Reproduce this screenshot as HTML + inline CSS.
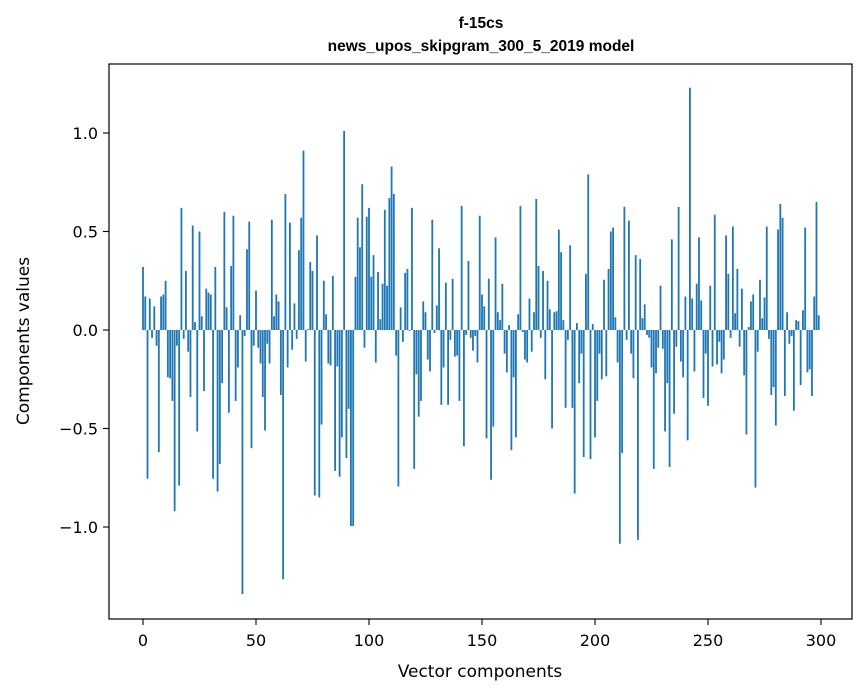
<!DOCTYPE html>
<html><head><meta charset="utf-8"><style>
html,body{margin:0;padding:0;background:#fff;}
svg{display:block;}
</style></head><body>
<svg id="chart" width="867" height="696" viewBox="0 0 867 696" xmlns="http://www.w3.org/2000/svg">
<rect width="867" height="696" fill="#fff"/>
<text x="481" y="28" text-anchor="middle" font-family="Liberation Sans, sans-serif" font-weight="bold" font-size="15.5">f-15cs</text>
<text x="481" y="51" text-anchor="middle" font-family="Liberation Sans, sans-serif" font-weight="bold" font-size="15.5">news_upos_skipgram_300_5_2019 model</text>
<g id="bars"></g>
<rect x="109" y="64" width="743" height="555" fill="none" stroke="#000" stroke-width="1.2"/>
<g id="xticks"></g>
<g id="yticks"></g>
<text x="480" y="677" text-anchor="middle" font-family="DejaVu Sans, sans-serif" font-size="17">Vector components</text>
<text transform="translate(29,341) rotate(-90)" text-anchor="middle" font-family="DejaVu Sans, sans-serif" font-size="17">Components values</text>
</svg>
<script>
const values = [
0.32,0.17,-0.755,0.16,-0.04,0.12,-0.08,-0.62,0.17,0.18,
0.25,-0.24,-0.245,-0.36,-0.92,-0.08,-0.79,0.62,-0.045,0.30,
-0.11,-0.34,0.53,0.04,-0.515,0.50,0.07,-0.31,0.21,0.19,
0.18,-0.755,0.32,-0.82,-0.68,-0.27,0.60,0.115,-0.42,0.325,
0.58,-0.36,-0.19,0.075,-1.34,-0.03,0.41,0.55,-0.60,-0.08,
0.20,-0.09,-0.17,-0.34,-0.51,-0.07,-0.17,0.56,0.07,0.18,
0.145,-0.33,-1.265,0.69,-0.19,0.545,-0.10,0.135,-0.045,0.405,
0.57,0.91,-0.16,0.005,0.345,0.30,-0.84,0.48,-0.85,-0.48,
0.25,0.08,-0.17,-0.18,0.275,-0.715,-0.185,-0.745,-0.545,1.01,
-0.65,-0.40,-0.995,-0.995,0.27,0.57,0.42,0.74,-0.09,0.575,
0.62,0.27,0.38,-0.165,0.295,0.055,0.235,0.61,0.225,0.67,
0.83,0.69,-0.13,-0.795,0.115,-0.06,0.29,0.31,-0.005,0.62,
-0.705,-0.225,-0.44,-0.36,0.145,0.09,-0.15,-0.21,0.56,-0.015,
0.125,0.415,-0.38,-0.19,0.24,-0.38,-0.05,0.26,-0.135,-0.13,
-0.36,0.63,-0.59,-0.025,0.35,-0.04,-0.105,-0.03,-0.165,0.58,
0.18,0.12,-0.55,0.26,-0.76,-0.49,0.47,0.09,0.05,0.235,
-0.12,-0.215,0.025,-0.61,-0.24,-0.545,0.08,0.63,-0.01,-0.15,
-0.165,0.16,-0.11,0.09,0.665,0.325,-0.04,0.30,-0.25,0.25,
0.105,-0.50,0.09,0.095,0.51,0.395,0.05,-0.395,-0.05,0.43,
-0.395,-0.83,0.035,-0.27,-0.12,-0.645,0.285,0.79,-0.655,0.03,
-0.545,-0.36,-0.12,-0.25,0.255,-0.235,0.31,0.50,0.52,0.065,
-0.165,-1.085,-0.625,0.625,-0.05,0.555,-0.12,-0.245,0.38,-1.065,
0.36,0.06,0.13,-0.025,-0.04,-0.19,-0.705,-0.22,-0.09,0.225,
-0.095,-0.515,-0.27,-0.695,0.46,-0.425,-0.085,0.625,-0.16,-0.24,
0.17,-0.56,1.23,0.16,-0.21,0.235,0.47,0.15,-0.345,-0.12,
-0.385,0.225,-0.185,0.585,-0.175,-0.06,-0.22,-0.15,0.48,0.285,
-0.04,0.525,0.085,0.31,-0.085,0.21,-0.23,-0.53,0.015,0.145,
0.18,-0.80,-0.11,0.255,0.06,0.165,0.525,-0.045,-0.33,-0.29,
-0.485,0.51,0.64,0.57,-0.335,0.09,-0.07,-0.03,-0.41,0.05,
0.045,-0.28,0.10,0.52,-0.215,-0.20,-0.335,0.17,0.65,0.075
];
const xTickValues = [0,50,100,150,200,250,300];
const yTickValues = [-1.0,-0.5,0.0,0.5,1.0];
const yTickLabels = ["\u22121.0","\u22120.5","0.0","0.5","1.0"];

const NS = "http://www.w3.org/2000/svg";
const X0 = 143, XS = 2.26;
const Y0 = 330, YS = 197;
function xScale(v){ return X0 + v*XS; }
function yScale(v){ return Y0 - v*YS; }

const gb = document.getElementById('bars');
values.forEach((v,i)=>{
  const r = document.createElementNS(NS,'rect');
  
  
  const x = xScale(i - 0.4), w = xScale(i + 0.4) - x;
  const y1 = yScale(Math.max(v,0)), y2 = yScale(Math.min(v,0));
  r.setAttribute('x', x); r.setAttribute('width', w);
  r.setAttribute('y', y1); r.setAttribute('height', Math.max(y2-y1,0.01));
  r.setAttribute('fill', '#1f77b4');
  gb.appendChild(r);
});

const gx = document.getElementById('xticks');
xTickValues.forEach(t=>{
  const x = xScale(t);
  const l = document.createElementNS(NS,'line');
  
  
  l.setAttribute('x1',x);l.setAttribute('x2',x);l.setAttribute('y1',619);l.setAttribute('y2',625);
  l.setAttribute('stroke','#000');l.setAttribute('stroke-width','1.1');
  gx.appendChild(l);
  const tx = document.createElementNS(NS,'text');
  
  
  tx.setAttribute('x',x);tx.setAttribute('y',646);tx.setAttribute('text-anchor','middle');
  tx.setAttribute('font-family','DejaVu Sans, sans-serif');tx.setAttribute('font-size','16');
  tx.textContent = String(t);
  gx.appendChild(tx);
});

const gy = document.getElementById('yticks');
yTickValues.forEach((t,i)=>{
  const y = yScale(t);
  const l = document.createElementNS(NS,'line');
  
  
  l.setAttribute('x1',103);l.setAttribute('x2',109);l.setAttribute('y1',y);l.setAttribute('y2',y);
  l.setAttribute('stroke','#000');l.setAttribute('stroke-width','1.1');
  gy.appendChild(l);
  const tx = document.createElementNS(NS,'text');
  
  
  tx.setAttribute('x',98);tx.setAttribute('y',y+6);tx.setAttribute('text-anchor','end');
  tx.setAttribute('font-family','DejaVu Sans, sans-serif');tx.setAttribute('font-size','16');
  tx.textContent = yTickLabels[i];
  gy.appendChild(tx);
});
</script>
</body></html>
